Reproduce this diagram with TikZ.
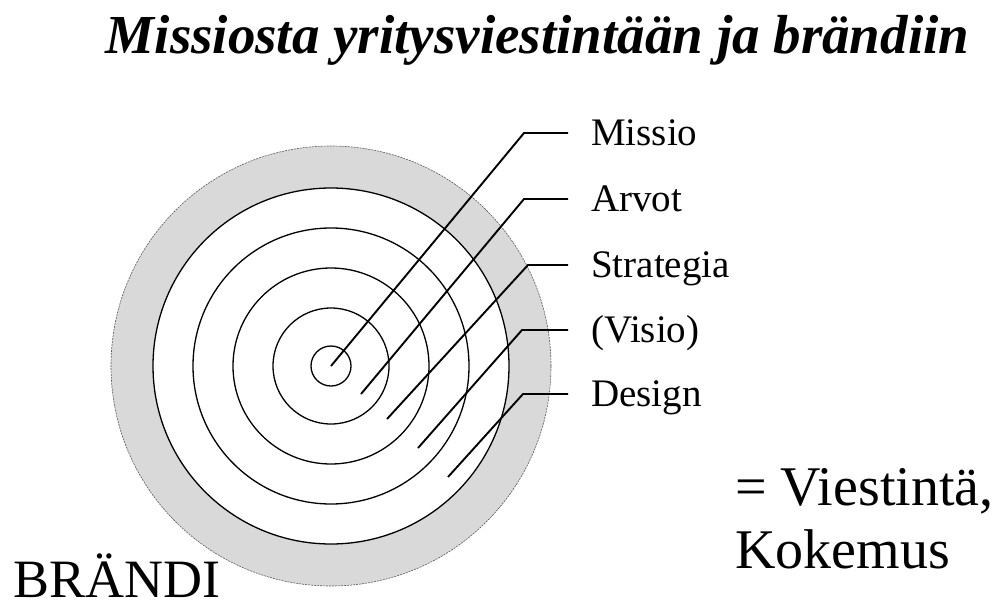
\documentclass[tikz,border=0pt]{standalone}
\usepackage{fontspec}
\setmainfont{Liberation Serif}
\usetikzlibrary{positioning,calc}

\begin{document}
\begin{tikzpicture}[
    x=1pt, y=-1pt,
    ring/.style={circle, draw=black, line width=1.3pt, fill=white, inner sep=0pt, minimum size=#1},
    lead/.style={line width=1.9pt, line join=miter},
    lbl/.style={anchor=west, inner xsep=23pt, inner ysep=0pt, text height=25pt, text depth=0pt, font=\fontsize{39}{44}\selectfont},
    big/.style={font=\fontsize{56}{63}\selectfont, inner sep=0pt}
]
    \useasboundingbox (0,0) rectangle (1006,610);

    % Title
    \node[anchor=base, inner sep=0pt, font=\fontsize{55}{60}\selectfont\bfseries\itshape] (title) at (537.5,53) {Missiosta yritysviestintään ja brändiin};

    % Rings, outermost first
    \coordinate (c) at (331,366);
    \node[circle, fill=gray!30, draw=gray!70!black, dash pattern=on 2pt off 1pt, line width=0.6pt, inner sep=0pt, minimum size=440pt] (brand) at (c) {};
    \node[ring=356pt] (design) at (c) {};
    \node[ring=276pt] (visio) at (c) {};
    \node[ring=196pt] (strategia) at (c) {};
    \node[ring=116pt] (arvot) at (c) {};
    \node[ring=40pt] (missio) at (c) {};

    % Labels on the right
    \node[lbl] (lMissio) at (568,133) {Missio};
    \node[lbl] (lArvot) at (568,199) {Arvot};
    \node[lbl] (lStrategia) at (568,265) {Strategia};
    \node[lbl] (lVisio) at (568,330) {(Visio)};
    \node[lbl] (lDesign) at (568,394) {Design};

    % Leader start points inside the rings
    \coordinate (pMissio) at (c);
    \coordinate (pArvot) at ($(c)+(30,28)$);
    \coordinate (pStrategia) at ($(c)+(56,53)$);
    \coordinate (pVisio) at ($(c)+(87,82)$);
    \coordinate (pDesign) at ($(c)+(117,111)$);

    % Leaders
    \draw[lead] (pMissio) -- ($(lMissio.west)+(-44,0)$) -- (lMissio.west);
    \draw[lead] (pArvot) -- ($(lArvot.west)+(-44,0)$) -- (lArvot.west);
    \draw[lead] (pStrategia) -- ($(lStrategia.west)+(-40,0)$) -- (lStrategia.west);
    \draw[lead] (pVisio) -- ($(lVisio.west)+(-46,0)$) -- (lVisio.west);
    \draw[lead] (pDesign) -- ($(lDesign.west)+(-45,0)$) -- (lDesign.west);

    % Bottom texts
    \node[big, anchor=base west, align=left] (comm) at (735,568) {= Viestintä,\\Kokemus};
    \node[anchor=base west, inner sep=0pt, font=\fontsize{54}{60}\selectfont] (brandi) at (13,597) {BRÄNDI};

\end{tikzpicture}
\end{document}
